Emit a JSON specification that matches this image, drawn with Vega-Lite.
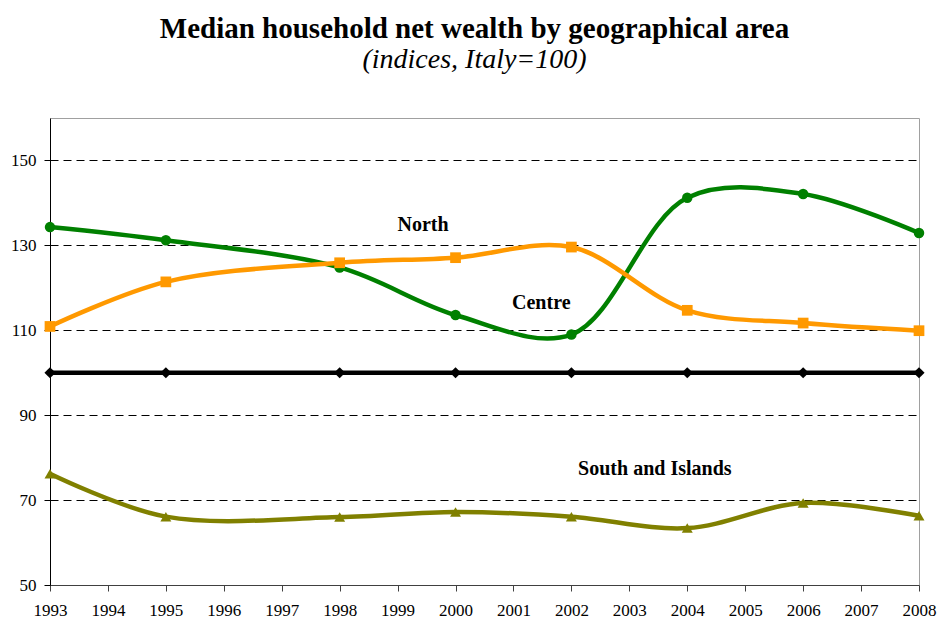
{
  "$schema": "https://vega.github.io/schema/vega-lite/v6.json",
  "width": 869,
  "height": 467,
  "autosize": "none",
  "padding": {"left": 50, "top": 118, "right": 19, "bottom": 35},
  "background": "white",
  "config": {
    "view": {"stroke": "#a0a0a0", "strokeWidth": 1},
    "font": "Liberation Serif"
  },
  "title": {
    "text": "Median household net wealth by geographical area",
    "subtitle": "(indices, Italy=100)",
    "font": "Liberation Serif",
    "fontSize": 29,
    "fontWeight": "bold",
    "color": "#000000",
    "subtitleFont": "Liberation Serif",
    "subtitleFontSize": 28,
    "subtitleFontStyle": "italic",
    "subtitleColor": "#000000",
    "subtitlePadding": 2,
    "anchor": "middle",
    "frame": "group",
    "dx": -10,
    "offset": 44
  },
  "datasets": {
    "series": [
      {"series": "Centre", "year": 1993, "value": 134.3},
      {"series": "Centre", "year": 1995, "value": 131.2},
      {"series": "Centre", "year": 1998, "value": 124.8},
      {"series": "Centre", "year": 2000, "value": 113.6},
      {"series": "Centre", "year": 2002, "value": 109.0},
      {"series": "Centre", "year": 2004, "value": 141.2},
      {"series": "Centre", "year": 2006, "value": 142.1},
      {"series": "Centre", "year": 2008, "value": 132.9},
      {"series": "North", "year": 1993, "value": 110.9},
      {"series": "North", "year": 1995, "value": 121.4},
      {"series": "North", "year": 1998, "value": 125.9},
      {"series": "North", "year": 2000, "value": 127.1},
      {"series": "North", "year": 2002, "value": 129.6},
      {"series": "North", "year": 2004, "value": 114.7},
      {"series": "North", "year": 2006, "value": 111.7},
      {"series": "North", "year": 2008, "value": 109.9},
      {"series": "South and Islands", "year": 1993, "value": 76.2},
      {"series": "South and Islands", "year": 1995, "value": 66.1},
      {"series": "South and Islands", "year": 1998, "value": 66.0},
      {"series": "South and Islands", "year": 2000, "value": 67.2},
      {"series": "South and Islands", "year": 2002, "value": 66.1},
      {"series": "South and Islands", "year": 2004, "value": 63.4},
      {"series": "South and Islands", "year": 2006, "value": 69.3},
      {"series": "South and Islands", "year": 2008, "value": 66.3},
      {"series": "Italy", "year": 1993, "value": 100},
      {"series": "Italy", "year": 1995, "value": 100},
      {"series": "Italy", "year": 1998, "value": 100},
      {"series": "Italy", "year": 2000, "value": 100},
      {"series": "Italy", "year": 2002, "value": 100},
      {"series": "Italy", "year": 2004, "value": 100},
      {"series": "Italy", "year": 2006, "value": 100},
      {"series": "Italy", "year": 2008, "value": 100}
    ],
    "labels": [
      {"label": "North", "year": 1999.44, "value": 134.7},
      {"label": "Centre", "year": 2001.48, "value": 116.5},
      {"label": "South and Islands", "year": 2003.44, "value": 77.3}
    ]
  },
  "layer": [
    {
      "data": {"name": "series"},
      "mark": {"type": "line", "interpolate": "catmull-rom", "strokeWidth": 4.5},
      "encoding": {
        "x": {
          "field": "year", "type": "quantitative",
          "scale": {"domain": [1993, 2008], "nice": false, "zero": false},
          "axis": {
            "title": null,
            "values": [1993, 1994, 1995, 1996, 1997, 1998, 1999, 2000, 2001, 2002, 2003, 2004, 2005, 2006, 2007, 2008],
            "format": "d",
            "grid": false,
            "tickSize": 6,
            "tickColor": "#404040",
            "domainColor": "#404040",
            "labelFont": "Liberation Serif",
            "labelFontSize": 17,
            "labelColor": "#000000",
            "labelPadding": 11,
            "labelFlush": false,
            "labelOverlap": false
          }
        },
        "y": {
          "field": "value", "type": "quantitative",
          "scale": {"domain": [50, 160], "nice": false, "zero": false},
          "axis": {
            "title": null,
            "values": [50, 70, 90, 110, 130, 150],
            "grid": true,
            "gridDash": [8, 5],
            "gridColor": "#000000",
            "gridWidth": 1,
            "tickSize": 6,
            "tickColor": "#000000",
            "domainColor": "#000000",
            "labelFont": "Liberation Serif",
            "labelFontSize": 17,
            "labelColor": "#000000",
            "labelPadding": 8
          }
        },
        "color": {
          "field": "series", "type": "nominal",
          "scale": {"domain": ["Centre", "North", "South and Islands", "Italy"], "range": ["#008000", "#FF9900", "#808000", "#000000"]},
          "legend": null
        },
        "detail": {"field": "series"}
      }
    },
    {
      "data": {"name": "series"},
      "mark": {"type": "point", "filled": true, "opacity": 1},
      "encoding": {
        "x": {"field": "year", "type": "quantitative"},
        "y": {"field": "value", "type": "quantitative"},
        "color": {"field": "series", "type": "nominal", "legend": null},
        "shape": {
          "field": "series", "type": "nominal",
          "scale": {"domain": ["Centre", "North", "South and Islands", "Italy"], "range": ["circle", "square", "triangle-up", "diamond"]},
          "legend": null
        },
        "size": {
          "field": "series", "type": "nominal",
          "scale": {"domain": ["Centre", "North", "South and Islands", "Italy"], "range": [110, 125, 160, 120]},
          "legend": null
        }
      }
    },
    {
      "data": {"name": "labels"},
      "mark": {"type": "text", "font": "Liberation Serif", "fontWeight": "bold", "fontSize": 20, "align": "center", "baseline": "middle", "color": "#000000"},
      "encoding": {
        "x": {"field": "year", "type": "quantitative"},
        "y": {"field": "value", "type": "quantitative"},
        "text": {"field": "label"}
      }
    }
  ]
}
